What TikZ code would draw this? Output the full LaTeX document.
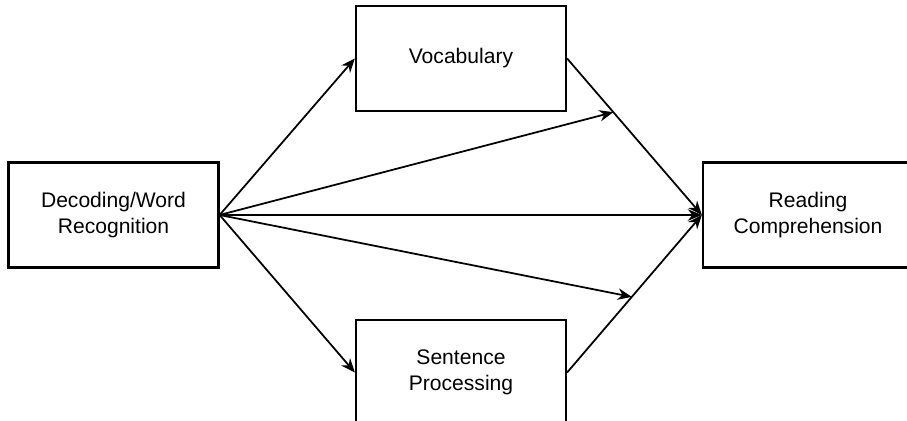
\documentclass[tikz,border=0pt]{standalone}
\usepackage{fontspec}
\setmainfont{Liberation Sans}
\usetikzlibrary{arrows.meta,calc}

\begin{document}
\begin{tikzpicture}[
  x=0.02cm, y=-0.02cm,
  vbox/.style={rectangle, draw=black, line width=1.3pt, fill=white,
               minimum width=4.2cm, minimum height=2.1cm,
               font=\fontsize{12}{15}\selectfont, align=center},
  arr/.style={-{Stealth[length=8pt, width=6.5pt]}, line width=1pt}
]
\useasboundingbox (0,0) rectangle (907,421);
\clip (0,0) rectangle (907,421);

% Variable boxes
\node[vbox] (dec) at (113.5,215) {Decoding/Word\\Recognition};
\node[vbox] (voc) at (461,58.5)  {Vocabulary};
\node[vbox] (sen) at (461,372.5) {Sentence\\Processing};
\node[vbox] (rc)  at (808,215)   {Reading\\Comprehension};

% Points on the paths into comprehension
\coordinate (vmid) at ($(voc.east)!0.343!(rc.west)$);
\coordinate (smid) at ($(sen.east)!0.48!(rc.west)$);

% Arrows
\draw[arr] (dec.east) -- (voc.west);
\draw[arr] (dec.east) -- (sen.west);
\draw[arr] (dec.east) -- (rc.west);
\draw[arr] (dec.east) -- (vmid);
\draw[arr] (dec.east) -- (smid);
\draw[arr] (voc.east) -- (rc.west);
\draw[arr] (sen.east) -- (rc.west);
\end{tikzpicture}
\end{document}
